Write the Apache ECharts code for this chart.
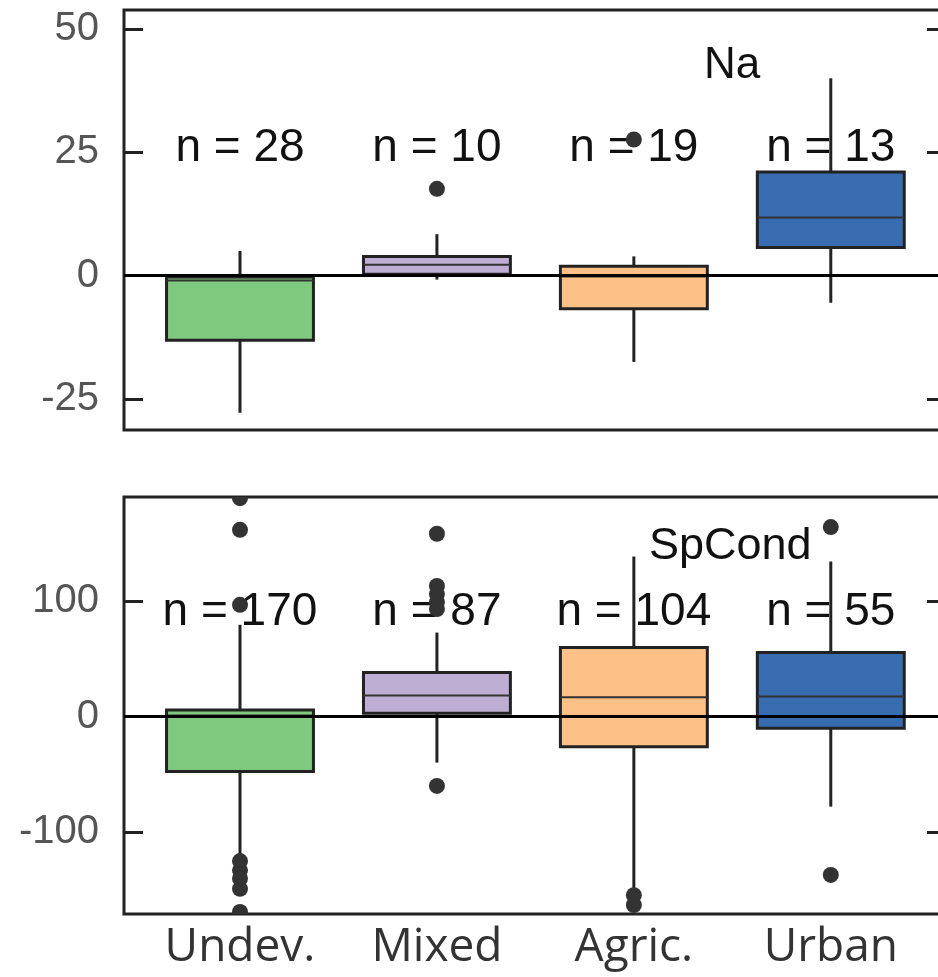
<!DOCTYPE html>
<html>
<head>
<meta charset="utf-8">
<script src="https://cdn.jsdelivr.net/npm/echarts@6/dist/echarts.min.js"></script>
<style>html,body{margin:0;padding:0;background:#fff;}#c{width:938px;height:977px;}</style>
</head>
<body>
<div id="c"></div>
<script>
// ---- data ----
const categories = ['Undev.', 'Mixed', 'Agric.', 'Urban'];

// Na panel: [lower whisker, Q1, median, Q3, upper whisker]
const naCounts = [28, 10, 19, 13];
const naBoxes = [
  [-27.8, -13.1, -1.0, -0.3, 5.0],
  [-0.8, 0.3, 2.2, 3.9, 8.4],
  [-17.5, -6.7, -0.2, 1.9, 3.9],
  [-5.5, 5.7, 11.8, 21.0, 40.0]
];
const naOutliers = [[], [17.6], [27.6], []];

// SpCond panel
const spCounts = [170, 87, 104, 55];
const spBoxes = [
  [-124, -47.6, 1.0, 5.8, 79.4],
  [-39.8, 2.9, 18.2, 38.1, 72.7],
  [-151.5, -26.0, 16.8, 59.7, 138.5],
  [-77.9, -10.0, 17.3, 55.4, 134.2]
];
const spOutliers = [
  [189, 161.6, 96.7, -125, -133, -140, -149, -169],
  [158.2, 113, 106, 99, 93, -60],
  [-154.5, -163],
  [164, -137]
];

const naTicks = [-25, 0, 25, 50];
const spTicks = [-100, 0, 100];

// ---- style ----
const colors = ['#7fc97f', '#beaed4', '#fdc086', '#386cb0'];
const BOX_W = 0.746;
const ink = '#222';

function boxData(boxes, counts) {
  return boxes.map((b, i) => [i + 1, b[0], b[1], b[2], b[3], b[4], counts[i]]);
}
function outlierData(outs) {
  const res = [];
  outs.forEach((arr, i) => arr.forEach(v => res.push([i + 1, v])));
  return res;
}

function makeBoxRenderer(labelY) {
  return function (params, api) {
    const x = api.value(0);
    const lo = api.coord([x, api.value(1)]);
    const q1 = api.coord([x, api.value(2)]);
    const md = api.coord([x, api.value(3)]);
    const q3 = api.coord([x, api.value(4)]);
    const hi = api.coord([x, api.value(5)]);
    const lab = api.coord([x, labelY]);
    const hw = api.size([BOX_W, 0])[0] / 2;
    const cx = q1[0];
    return {
      type: 'group',
      children: [
        { type: 'text', x: cx, y: lab[1], z2: 0,
          style: { text: 'n = ' + api.value(6), fill: '#111', font: '46px "Liberation Sans", Arial, sans-serif', align: 'center', verticalAlign: 'middle' } },
        { type: 'line', z2: 1, shape: { x1: cx, y1: q3[1], x2: cx, y2: hi[1] }, style: { stroke: ink, lineWidth: 3 } },
        { type: 'line', z2: 1, shape: { x1: cx, y1: q1[1], x2: cx, y2: lo[1] }, style: { stroke: ink, lineWidth: 3 } },
        { type: 'rect', z2: 2, shape: { x: cx - hw, y: q3[1], width: 2 * hw, height: q1[1] - q3[1] },
          style: { fill: colors[params.dataIndex], stroke: ink, lineWidth: 3 } },
        { type: 'line', z2: 3, shape: { x1: cx - hw, y1: md[1], x2: cx + hw, y2: md[1] }, style: { stroke: '#333', lineWidth: 2 } }
      ]
    };
  };
}

function renderOutlier(params, api) {
  const p = api.coord([api.value(0), api.value(1)]);
  return { type: 'circle', shape: { cx: p[0], cy: p[1], r: 8 }, style: { fill: '#333' } };
}

function yAxes(grid, min, max, ticks, showLabels, pos) {
  return {
    gridIndex: grid, type: 'value', position: pos, min: min, max: max,
    axisLine: { show: false },
    splitLine: { show: false },
    axisTick: { show: true, inside: true, length: 19, customValues: ticks, lineStyle: { color: ink, width: 3 } },
    axisLabel: { show: showLabels, customValues: ticks, margin: 25, fontSize: 40, color: '#555', fontFamily: '"Liberation Sans", Arial, sans-serif' }
  };
}

const X_MIN = 0.411, X_MAX = 4.585;

const option = {
  animation: false,
  backgroundColor: '#fff',
  title: [
    { text: 'Na', left: 704, top: 44, padding: 0, textStyle: { fontSize: 44, fontWeight: 'normal', color: '#111', fontFamily: '"Liberation Sans", Arial, sans-serif' } },
    { text: 'SpCond', left: 649, top: 524, padding: 0, textStyle: { fontSize: 45, fontWeight: 'normal', color: '#111', fontFamily: '"Liberation Sans", Arial, sans-serif' } }
  ],
  grid: [
    { left: 124, width: 822, top: 10, height: 420, outerBoundsMode: 'none', containLabel: false, show: true, borderColor: ink, borderWidth: 3, backgroundColor: 'transparent' },
    { left: 124, width: 822, top: 497, height: 417, outerBoundsMode: 'none', containLabel: false, show: true, borderColor: ink, borderWidth: 3, backgroundColor: 'transparent' }
  ],
  xAxis: [
    { gridIndex: 0, type: 'value', min: X_MIN, max: X_MAX, axisLine: { show: false }, axisTick: { show: false }, axisLabel: { show: false }, splitLine: { show: false } },
    { gridIndex: 1, type: 'value', min: X_MIN, max: X_MAX, axisLine: { show: false }, axisTick: { show: false }, splitLine: { show: false },
      axisLabel: { show: true, customValues: [1, 2, 3, 4], formatter: v => categories[Math.round(v) - 1], margin: 11,
        fontSize: 46, color: '#333', fontFamily: '"Open Sans", sans-serif' } }
  ],
  yAxis: [
    yAxes(0, -31.3, 53.85, naTicks, true, 'left'),
    yAxes(0, -31.3, 53.85, naTicks, false, 'right'),
    yAxes(1, -170.8, 190, spTicks, true, 'left'),
    yAxes(1, -170.8, 190, spTicks, false, 'right')
  ],
  series: [
    { type: 'custom', name: 'Na', xAxisIndex: 0, yAxisIndex: 0, z: 2, renderItem: makeBoxRenderer(25.8), data: boxData(naBoxes, naCounts) },
    { type: 'custom', name: 'Na outliers', xAxisIndex: 0, yAxisIndex: 0, z: 4, clip: true, renderItem: renderOutlier, data: outlierData(naOutliers),
      markLine: { silent: true, symbol: 'none', label: { show: false }, lineStyle: { color: '#000', width: 3, type: 'solid' }, data: [{ yAxis: 0 }] } },
    { type: 'custom', name: 'SpCond', xAxisIndex: 1, yAxisIndex: 2, z: 2, renderItem: makeBoxRenderer(90.6), data: boxData(spBoxes, spCounts) },
    { type: 'custom', name: 'SpCond outliers', xAxisIndex: 1, yAxisIndex: 2, z: 4, clip: true, renderItem: renderOutlier, data: outlierData(spOutliers),
      markLine: { silent: true, symbol: 'none', label: { show: false }, lineStyle: { color: '#000', width: 3, type: 'solid' }, data: [{ yAxis: 0 }] } }
  ]
};

const chart = echarts.init(document.getElementById('c'), null, { renderer: 'canvas' });
chart.setOption(option);
</script>
</body>
</html>
